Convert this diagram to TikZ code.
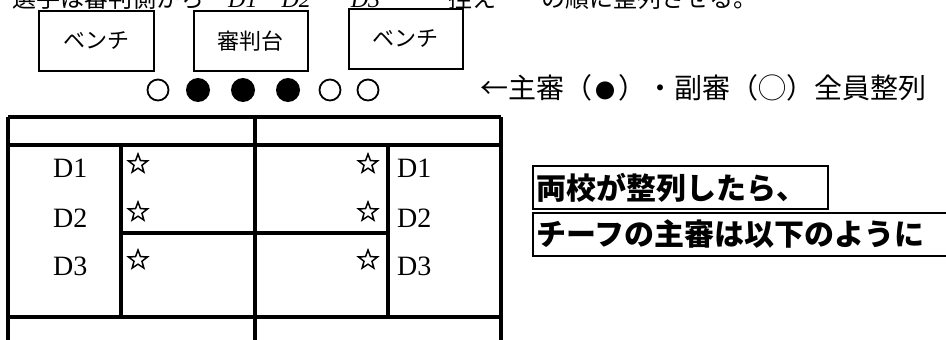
\documentclass[tikz,border=0pt]{standalone}
\usepackage{fontspec}
\usetikzlibrary{shapes.geometric}
\setmainfont{Liberation Serif}
\newfontfamily\jp{Noto Sans CJK JP}
\newcommand\Dlab[1]{{\rmfamily\itshape #1}}
\tikzset{
  benchbox/.style={draw, line width=1.6pt, minimum width=115pt, minimum height=60pt, anchor=north west, inner sep=0pt, font=\jp\fontsize{22}{22}\selectfont},
  opencirc/.style={circle, draw, line width=1.8pt, minimum size=21pt, inner sep=0pt},
  fullcirc/.style={circle, fill=black, minimum size=24pt, inner sep=0pt},
  tline/.style={line width=3.2pt},
  dtext/.style={inner sep=0pt, font=\fontsize{28}{28}\selectfont},
  starmark/.style={star, star points=5, star point ratio=2.4, draw, line width=1.5pt, minimum size=20pt, inner sep=0pt},
  notebox/.style={draw, line width=2pt, anchor=north west, inner xsep=3pt, inner ysep=0pt, align=left, font=\jp\bfseries\fontsize{30}{30}\selectfont}
}
\begin{document}
\begin{tikzpicture}[x=1pt,y=-1pt]
\useasboundingbox (0,0) rectangle (946,340);
\clip (0,0) rectangle (946,340);
\fill[white] (0,0) rectangle (946,340);

% cut-off intro line
\node[anchor=base west, inner sep=0pt, font=\jp\fontsize{24}{24}\selectfont] (intro) at (12,7)
  {選手は審判側から\hspace{24pt}\Dlab{D1}\hspace{24pt}\Dlab{D2}\hspace{40pt}\Dlab{D3}\hspace{68pt}控え\hspace{45pt}の順に整列させる。};

% benches and referee table
\node[benchbox] (bench1) at (38,10) {\raisebox{-6pt}{ベンチ}};
\node[benchbox, minimum width=114pt] (judge) at (193,10) {\raisebox{-6pt}{審判台}};
\node[benchbox, minimum width=114pt] (bench2) at (348,8) {\raisebox{-6pt}{ベンチ}};

% referees
\node[opencirc] (r1) at (158,90) {};
\node[fullcirc] (r2) at (198,90) {};
\node[fullcirc] (r3) at (243,90) {};
\node[fullcirc] (r4) at (288,90) {};
\node[opencirc] (r5) at (330,90) {};
\node[opencirc] (r6) at (368,90) {};

\node[anchor=base west, inner sep=0pt, font=\jp\fontsize{28}{28}\selectfont] (legend) at (480,98)
  {←主審（\hspace{3pt}{\fontsize{20}{20}\selectfont ●}\hspace{3pt}）・副審（◯）全員整列};

% court
\draw[tline] (8,117) -- (501,117);
\draw[tline] (8,117) -- (8,345);
\draw[tline] (501,117) -- (501,345);
\draw[tline] (255,117) -- (255,345);
\draw[tline] (8,145) -- (501,145);
\draw[tline] (8,317) -- (501,317);
\draw[tline] (121,145) -- (121,317);
\draw[tline] (388,145) -- (388,317);
\draw[tline] (121,233) -- (388,233);

% players
\node[dtext, anchor=base west] (ld1) at (53,177) {D1};
\node[dtext, anchor=base west] (ld2) at (53,227) {D2};
\node[dtext, anchor=base west] (ld3) at (53,275) {D3};
\node[dtext, anchor=base west] (rd1) at (397,177) {D1};
\node[dtext, anchor=base west] (rd2) at (397,227) {D2};
\node[dtext, anchor=base west] (rd3) at (397,275) {D3};

\node[starmark] (ls1) at (138,164) {};
\node[starmark] (ls2) at (138,212) {};
\node[starmark] (ls3) at (138,260) {};
\node[starmark] (rs1) at (368,164) {};
\node[starmark] (rs2) at (368,212) {};
\node[starmark] (rs3) at (368,260) {};

% notes
\node[notebox, text width=289pt, minimum height=43pt] (note1) at (532,165) {両校が整列したら、};
\node[notebox, text width=500pt, minimum height=43pt] (note2) at (532,212) {チーフの主審は以下のように};
\end{tikzpicture}
\end{document}
